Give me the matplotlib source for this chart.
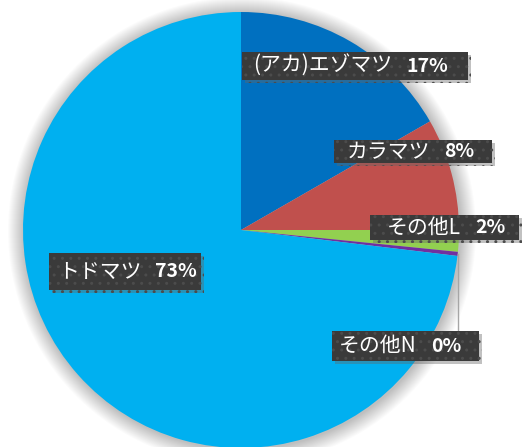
import numpy as np
import matplotlib
matplotlib.use('Agg')
import matplotlib.pyplot as plt
from matplotlib.patches import Rectangle, Circle
import matplotlib.patheffects as pe

plt.rcParams['font.family'] = ['Noto Sans CJK JP', 'DejaVu Sans']

# species share of the stand (percent)
species = ['(アカ)エゾマツ', 'カラマツ', 'その他L', 'その他N', 'トドマツ']
shares = [16.7, 8.3, 1.6, 0.3, 73.1]
colors = ['#0070C0', '#C0504D', '#92D050', '#7030A0', '#00B0F0']

W, H = 522, 447

# label boxes in pixel coords from the top-left: left, top, right, bottom
label_boxes = [
    (242, 52, 468, 80),
    (334, 140, 492, 163),
    (370, 215, 519, 240),
    (332, 331, 479, 361),
    (49, 253, 201, 290),
]
# x where each label's text starts
text_x = [253, 347, 387, 339, 58]
leader = [False, False, False, True, False]

CX, CY, R = 241, 230, 218


def fy(y):
    # flip a top-origin pixel y into axes data y
    return H - y


fig = plt.figure(figsize=(W / 100, H / 100), dpi=100)
ax = fig.add_axes([0, 0, 1, 1])

# soft glow round the pie
for i in range(16, 0, -1):
    ax.add_patch(Circle((CX + 1, fy(CY) - 1), R + i, color='#000000',
                        alpha=0.014, lw=0, zorder=0))

wedges, _ = ax.pie(shares, colors=colors, startangle=90, counterclock=False,
                   center=(CX, fy(CY)), radius=R,
                   wedgeprops=dict(linewidth=0))

for k, (name, val) in enumerate(zip(species, shares)):
    x0, y0, x1, y1 = label_boxes[k]
    if leader[k]:
        w = wedges[k]
        ang = np.deg2rad((w.theta1 + w.theta2) / 2)
        ex = w.center[0] + w.r * np.cos(ang)
        ey = w.center[1] + w.r * np.sin(ang)
        ax.plot([ex, ex], [ey, fy(y0)], color='#a6a6a6', lw=1, zorder=3)
    box = Rectangle((x0, fy(y1)), x1 - x0, y1 - y0, facecolor='#3a3a3a',
                    edgecolor='#4c4c4c', lw=0, hatch='..', zorder=4)
    box.set_path_effects([pe.SimplePatchShadow(offset=(2.5, -2.5),
                                               shadow_rgbFace='#666666',
                                               alpha=0.4),
                          pe.Normal()])
    ax.add_patch(box)
    yc = fy((y0 + y1) / 2)
    t = ax.text(text_x[k], yc, name, color='white', fontsize=15,
                ha='left', va='center', zorder=5)
    ax.annotate(f'{val:.0f}%', xy=(1, 0.5), xycoords=t,
                xytext=(10, 0), textcoords='offset points',
                color='white', fontsize=14, fontweight='bold',
                ha='left', va='center', zorder=5)

ax.set_xlim(0, W)
ax.set_ylim(0, H)
ax.set_aspect('equal')
ax.axis('off')

fig.savefig('out.png', dpi=100)
